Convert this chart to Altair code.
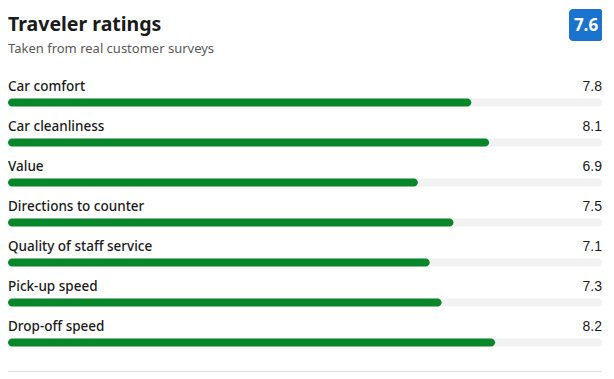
import altair as alt
import pandas as pd

categories = ["Car comfort", "Car cleanliness", "Value", "Directions to counter",
              "Quality of staff service", "Pick-up speed", "Drop-off speed"]
scores = [7.8, 8.1, 6.9, 7.5, 7.1, 7.3, 8.2]
overall = 7.6
title_text = "Traveler ratings"
subtitle_text = "Taken from real customer surveys"

df = pd.DataFrame({
    "category": categories,
    "score": scores,
    "row": list(range(len(categories))),
    "label": [f"{s:.1f}" for s in scores],
    "full": [10] * len(categories),
    "zero": [0] * len(categories),
})

FONT = "Noto Sans"
GREEN = "#07862A"

x_scale = alt.Scale(domain=[0, 10], range=[0, 594], nice=False, zero=True, padding=0)
y_scale = alt.Scale(domain=[0, 6], range=[94.5, 334.5], nice=False, zero=False, padding=0)

base = alt.Chart(df).encode(
    y=alt.Y("row:Q", scale=y_scale, axis=None)
)

track = base.mark_bar(height=8, cornerRadius=4, color="#F2F2F2").encode(
    x=alt.X("zero:Q", scale=x_scale, axis=None),
    x2="full:Q",
)

bars = base.mark_bar(height=8, cornerRadius=4, color=GREEN).encode(
    x=alt.X("zero:Q", scale=x_scale, axis=None),
    x2="score:Q",
)

names = base.mark_text(align="left", baseline="alphabetic", dy=-11.5,
                       fontSize=13.5, fontWeight=500, font=FONT,
                       color="#1a1a1a").encode(
    x=alt.value(0),
    text="category:N",
)

values = base.mark_text(align="right", baseline="alphabetic", dy=-11.5,
                        fontSize=14, font="Liberation Sans",
                        color="#1a1a1a").encode(
    x=alt.value(594),
    text="label:N",
)

one = pd.DataFrame({"t": [title_text], "s": [subtitle_text], "o": [f"{overall:.1f}"]})

title = alt.Chart(one).mark_text(align="left", baseline="alphabetic",
                                 fontSize=19.5, fontWeight="bold", font=FONT,
                                 color="#1a1a1a").encode(
    x=alt.value(0), y=alt.value(23), text="t:N")

subtitle = alt.Chart(one).mark_text(align="left", baseline="alphabetic",
                                    fontSize=13, font=FONT,
                                    color="#595959").encode(
    x=alt.value(0), y=alt.value(45), text="s:N")

badge = alt.Chart(one).mark_rect(cornerRadius=4, color="#1A73CC").encode(
    x=alt.value(561), x2=alt.value(595), y=alt.value(1), y2=alt.value(33))

badge_text = alt.Chart(one).mark_text(align="center", baseline="middle",
                                      fontSize=17, fontWeight="bold", font=FONT,
                                      color="white").encode(
    x=alt.value(578), y=alt.value(17.5), text="o:N")

bottom = alt.Chart(one).mark_rule(color="#E3E3E3", strokeWidth=1).encode(
    x=alt.value(0), x2=alt.value(594), y=alt.value(363.5))

chart = alt.layer(track, bars, names, values, title, subtitle, badge, badge_text, bottom).properties(
    width=594, height=366, padding=0, background="white",
    autosize=alt.AutoSizeParams(type="none"),
).configure_view(stroke=None)

chart.save("out.html", embed_options={"renderer": "svg", "actions": False})
